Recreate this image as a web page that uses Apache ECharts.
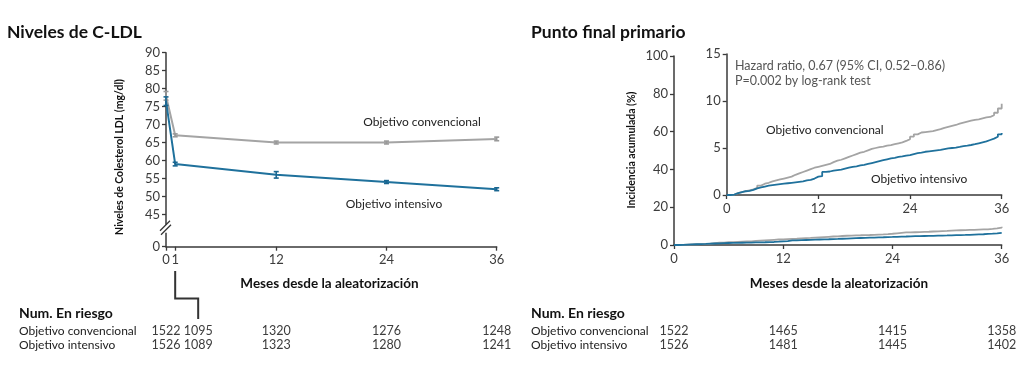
<!DOCTYPE html>
<html><head><meta charset="utf-8">
<script src="https://cdn.jsdelivr.net/npm/echarts@6/dist/echarts.min.js"></script>
<style>html,body{margin:0;padding:0;background:#fff;}#c{width:1024px;height:375px;}</style>
</head><body><div id="c"></div>
<script>
// ---------- data ----------
const ldlMonths = [0, 1, 12, 24, 36];
const ldlConv = [78, 67, 65, 65, 66];
const ldlConvErr = [1.2, 0.4, 0.4, 0.4, 0.5];
const ldlInt = [76.5, 59, 56, 54, 52];
const ldlIntErr = [1.2, 0.5, 0.9, 0.4, 0.4];
const ldlYBreakValue = 36;               // axis position standing for 0 (broken axis)
const ldlYTicks = [36, 45, 50, 55, 60, 65, 70, 75, 80, 85, 90];
const ldlXTicks = [0, 1, 12, 24, 36];

const kmMonths = [0,0.5,1,1.5,2,2.5,3,3.5,4,4.5,5,5.5,6,6.5,7,7.5,8,8.5,9,9.5,10,10.5,11,11.5,12,12.5,13,13.5,14,14.5,15,15.5,16,16.5,17,17.5,18,18.5,19,19.5,20,20.5,21,21.5,22,22.5,23,23.5,24,24.5,25,25.5,26,26.5,27,27.5,28,28.5,29,29.5,30,30.5,31,31.5,32,32.5,33,33.5,34,34.5,35,35.5,36];
const kmConv = [0,0.05,0.2,0.3,0.4,0.5,0.6,0.75,1.0,1.2,1.3,1.45,1.55,1.65,1.75,1.85,1.95,2.15,2.3,2.45,2.6,2.75,2.9,3.0,3.1,3.2,3.3,3.5,3.65,3.75,3.9,4.05,4.2,4.35,4.5,4.6,4.75,4.9,5.0,5.1,5.15,5.25,5.3,5.4,5.5,5.6,5.75,5.95,6.2,6.45,6.65,6.7,6.75,6.8,6.9,7.0,7.15,7.25,7.35,7.45,7.6,7.7,7.8,7.9,8.0,8.05,8.15,8.25,8.3,8.5,8.75,9.2,9.7];
const kmInt  = [0,0.05,0.2,0.3,0.4,0.45,0.55,0.7,0.8,0.9,1.0,1.05,1.1,1.15,1.2,1.25,1.3,1.35,1.4,1.45,1.55,1.6,1.75,1.95,2.0,2.45,2.5,2.6,2.65,2.7,2.8,2.9,3.0,3.05,3.15,3.2,3.3,3.4,3.5,3.6,3.7,3.8,3.9,3.95,4.05,4.1,4.2,4.25,4.35,4.45,4.5,4.6,4.65,4.7,4.75,4.8,4.88,4.95,5.0,5.05,5.12,5.2,5.25,5.32,5.4,5.5,5.6,5.7,5.85,6.0,6.2,6.45,6.6];

const riskMonthsLeft = [0, 1, 12, 24, 36];
const riskLeftConv = [1522, 1095, 1320, 1276, 1248];
const riskLeftInt  = [1526, 1089, 1323, 1280, 1241];
const riskMonthsRight = [0, 12, 24, 36];
const riskRightConv = [1522, 1465, 1415, 1358];
const riskRightInt  = [1526, 1481, 1445, 1402];

// ---------- styles ----------
const FONT = 'Lato, "Open Sans", sans-serif';
const GRAY = '#a4a4a4';
const BLUE = '#1f719c';
const AX = '#3a3a3a';
const TXT = '#3c3c3c';

const axisCommon = {
  axisLine: {show: true, lineStyle: {color: AX, width: 1.5}},
  axisTick: {show: true, length: 4, lineStyle: {color: AX, width: 1.3}},
  splitLine: {show: false},
  axisLabel: {color: TXT, fontFamily: FONT, fontSize: 13}
};
function ax(extra) { return echarts.util.merge(echarts.util.clone(axisCommon), extra, true); }

const chart = echarts.init(document.getElementById('c'), null, {renderer: 'canvas'});

function errData(months, vals, errs) { return months.map((m, i) => [m, vals[i], errs[i]]); }
function errRender(color) {
  return function (params, api) {
    const x = api.value(0), y = api.value(1), e = api.value(2);
    const t = api.coord([x, y + e]), b = api.coord([x, y - e]);
    const w = 2.5;
    const st = {stroke: color, lineWidth: 1.6};
    return {type: 'group', children: [
      {type: 'line', shape: {x1: t[0], y1: t[1], x2: b[0], y2: b[1]}, style: st},
      {type: 'line', shape: {x1: t[0] - w, y1: t[1], x2: t[0] + w, y2: t[1]}, style: st},
      {type: 'line', shape: {x1: b[0] - w, y1: b[1], x2: b[0] + w, y2: b[1]}, style: st}
    ]};
  };
}

const option = {
  animation: false,
  backgroundColor: '#fff',
  grid: [
    {left: 166, top: 52.7, width: 330.7, height: 194},
    {left: 674, top: 56, width: 327.7, height: 189},
    {left: 726.7, top: 54, width: 275, height: 141}
  ],
  xAxis: [
    ax({gridIndex: 0, type: 'value', min: 0, max: 36,
        axisLabel: {customValues: ldlXTicks, margin: 7}, axisTick: {customValues: ldlXTicks}}),
    ax({gridIndex: 1, type: 'value', min: 0, max: 36, interval: 12, axisLabel: {margin: 7}}),
    ax({gridIndex: 2, type: 'value', min: 0, max: 36, interval: 12, axisLabel: {margin: 7}})
  ],
  yAxis: [
    ax({gridIndex: 0, type: 'value', min: ldlYBreakValue, max: 90,
        axisLabel: {customValues: ldlYTicks, margin: 6,
                    formatter: v => (v === ldlYBreakValue ? '0' : String(v))},
        axisTick: {customValues: ldlYTicks}}),
    ax({gridIndex: 1, type: 'value', min: 0, max: 100, interval: 20, axisLabel: {margin: 6}}),
    ax({gridIndex: 2, type: 'value', min: 0, max: 15, interval: 5, axisLabel: {margin: 6}})
  ],
  series: [
    {type: 'line', xAxisIndex: 0, yAxisIndex: 0, symbol: 'none', z: 3,
     lineStyle: {color: GRAY, width: 2}, data: ldlMonths.map((m, i) => [m, ldlConv[i]])},
    {type: 'line', xAxisIndex: 0, yAxisIndex: 0, symbol: 'none', z: 4,
     lineStyle: {color: BLUE, width: 2}, data: ldlMonths.map((m, i) => [m, ldlInt[i]])},
    {type: 'custom', xAxisIndex: 0, yAxisIndex: 0, z: 5, renderItem: errRender('#999'),
     data: errData(ldlMonths, ldlConv, ldlConvErr)},
    {type: 'custom', xAxisIndex: 0, yAxisIndex: 0, z: 6, renderItem: errRender('#1a6690'),
     data: errData(ldlMonths, ldlInt, ldlIntErr)},

    {type: 'line', xAxisIndex: 1, yAxisIndex: 1, symbol: 'none', step: 'end',
     lineStyle: {color: GRAY, width: 1.8}, data: kmMonths.map((m, i) => [m, kmConv[i]])},
    {type: 'line', xAxisIndex: 1, yAxisIndex: 1, symbol: 'none', step: 'end',
     lineStyle: {color: BLUE, width: 1.8}, data: kmMonths.map((m, i) => [m, kmInt[i]])},
    {type: 'line', xAxisIndex: 2, yAxisIndex: 2, symbol: 'none', step: 'end',
     lineStyle: {color: GRAY, width: 1.8}, data: kmMonths.map((m, i) => [m, kmConv[i]])},
    {type: 'line', xAxisIndex: 2, yAxisIndex: 2, symbol: 'none', step: 'end',
     lineStyle: {color: BLUE, width: 1.8}, data: kmMonths.map((m, i) => [m, kmInt[i]])}
  ]
};
chart.setOption(option);

// ---------- annotations ----------
function txt(x, y, text, o) {
  o = o || {};
  return {type: 'text', x: x, y: y, rotation: o.rot || 0, z: 100,
    style: {text: text, fill: o.color || '#222', font: (o.weight || 'normal') + ' ' + (o.size || 12) + 'px ' + FONT,
            align: o.align || 'left', verticalAlign: 'middle', textAlign: o.align || 'left', textVerticalAlign: 'middle'}};
}
const g = [];
g.push(txt(7, 32, 'Niveles de C-LDL', {weight: 'bold', size: 17.5, color: '#111'}));
g.push(txt(531, 32, 'Punto final primario', {weight: 'bold', size: 17.5, color: '#111'}));
g.push(txt(120, 157, 'Niveles de Colesterol LDL (mg/dl)', {weight: 'bold', size: 10.5, align: 'center', rot: Math.PI / 2, color: '#111'}));
g.push(txt(632, 150, 'Incidencia acumulada (%)', {weight: 'bold', size: 10.5, align: 'center', rot: Math.PI / 2, color: '#111'}));
g.push(txt(329.5, 284, 'Meses desde la aleatorización', {weight: 'bold', size: 13.5, align: 'center', color: '#111'}));
g.push(txt(839, 284, 'Meses desde la aleatorización', {weight: 'bold', size: 13.5, align: 'center', color: '#111'}));
g.push(txt(422, 122, 'Objetivo convencional', {size: 12, align: 'center', color: '#222'}));
g.push(txt(394, 204, 'Objetivo intensivo', {size: 12, align: 'center', color: '#222'}));
g.push(txt(735, 65.5, 'Hazard ratio, 0.67 (95% CI, 0.52\u20130.86)', {size: 12.5, color: '#555'}));
g.push(txt(735, 81, 'P=0.002 by log-rank test', {size: 12.5, color: '#555'}));
g.push(txt(766, 130, 'Objetivo convencional', {size: 12, color: '#222'}));
g.push(txt(871, 179, 'Objetivo intensivo', {size: 12, color: '#222'}));

// tables
[[19, 0, riskMonthsLeft, riskLeftConv, riskLeftInt], [531, 1, riskMonthsRight, riskRightConv, riskRightInt]].forEach(function (t) {
  g.push(txt(t[0], 313, 'Num. En riesgo', {weight: 'bold', size: 14, color: '#111'}));
  g.push(txt(t[0], 331, 'Objetivo convencional', {size: 12, color: '#222'}));
  g.push(txt(t[0], 345, 'Objetivo intensivo', {size: 12, color: '#222'}));
  t[2].forEach(function (m, i) {
    let px = chart.convertToPixel({xAxisIndex: t[1]}, m);
    if (t[1] === 0 && m === 1) px += 23;   // column moved right, reached by the bracket
    g.push(txt(px, 331, String(t[3][i]), {size: 12.5, align: 'center', color: TXT}));
    g.push(txt(px, 345, String(t[4][i]), {size: 12.5, align: 'center', color: TXT}));
  });
});

// bracket from month 1 to its at-risk column
const m1 = chart.convertToPixel({xAxisIndex: 0}, 1);
g.push({type: 'polyline', z: 100, shape: {points: [[m1, 271], [m1, 298.5], [m1 + 23, 298.5], [m1 + 23, 319]]},
        style: {stroke: '#333', lineWidth: 2, fill: null}});

// axis break marks on the LDL y axis
const axX = chart.convertToPixel({xAxisIndex: 0}, 0);
const brY = chart.convertToPixel({yAxisIndex: 0}, 41);
g.push({type: 'rect', z: 99, shape: {x: axX - 4, y: brY - 4, width: 8, height: 8}, style: {fill: '#fff'}});
g.push({type: 'line', z: 100, shape: {x1: axX - 6, y1: brY + 2, x2: axX + 4, y2: brY - 8}, style: {stroke: '#333', lineWidth: 1.2}});
g.push({type: 'line', z: 100, shape: {x1: axX - 5, y1: brY + 6, x2: axX + 5, y2: brY - 4}, style: {stroke: '#333', lineWidth: 1.2}});

chart.setOption({graphic: g});
</script></body></html>
